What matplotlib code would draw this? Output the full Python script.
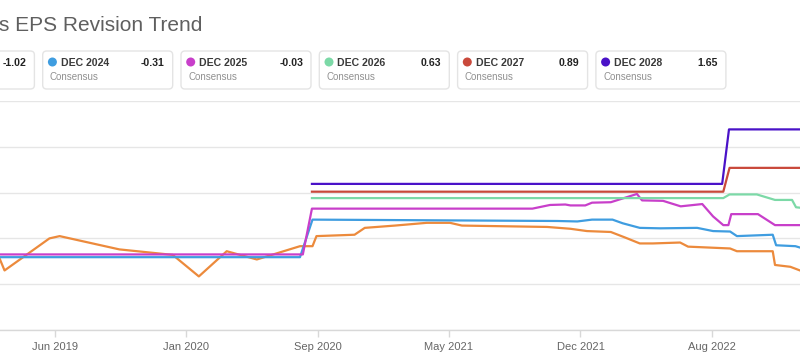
import numpy as np
import pandas as pd
import matplotlib
matplotlib.use("Agg")
import matplotlib.pyplot as plt
from matplotlib.patches import FancyBboxPatch, Circle

plt.rcParams["font.family"] = ["Liberation Sans", "DejaVu Sans"]

# -------------------------
# legend cards
# -------------------------
periods = ["DEC 2023", "DEC 2024", "DEC 2025", "DEC 2026", "DEC 2027", "DEC 2028"]
consensus = ["-1.02", "-0.31", "-0.03", "0.63", "0.89", "1.65"]
colors = ["#ec8a3c", "#3f9de0", "#c83fca", "#7cd9a7", "#c9493b", "#4a12c8"]

# -------------------------
# revision series (EPS estimate by date)
# -------------------------
dec2023_dates = ["2019-02-14", "2019-03-05", "2019-05-23", "2019-06-10", "2019-09-23",
                 "2019-12-26", "2020-02-10", "2020-03-30", "2020-05-22", "2020-08-06",
                 "2020-08-28", "2020-09-04", "2020-11-10", "2020-11-28", "2021-01-20",
                 "2021-03-17", "2021-04-27", "2021-05-18", "2021-10-15", "2021-11-25",
                 "2021-12-24", "2022-02-04", "2022-03-01", "2022-03-27", "2022-04-19",
                 "2022-06-06", "2022-06-20", "2022-09-02", "2022-09-14", "2022-11-16",
                 "2022-11-20", "2022-12-17", "2023-01-03", "2023-01-10"]
dec2023_eps = [-0.13, -0.70, 0.00, 0.05, -0.24,
               -0.36, -0.83, -0.28, -0.46, -0.17,
               -0.17, 0.05, 0.08, 0.23, 0.28,
               0.34, 0.34, 0.28, 0.25, 0.21,
               0.16, 0.14, 0.02, -0.11, -0.11,
               -0.09, -0.18, -0.22, -0.28, -0.28,
               -0.58, -0.62, -0.70, -0.72]

dec2024_dates = ["2019-02-01", "2020-08-06", "2020-08-28", "2021-11-02", "2021-12-07",
                 "2022-01-02", "2022-02-07", "2022-02-25", "2022-03-27", "2022-05-02",
                 "2022-07-06", "2022-08-03", "2022-09-02", "2022-09-14", "2022-11-16",
                 "2022-11-22", "2022-12-26", "2023-01-03", "2023-01-10"]
dec2024_eps = [-0.41, -0.41, 0.41, 0.38, 0.37,
               0.41, 0.41, 0.33, 0.23, 0.22,
               0.23, 0.16, 0.15, 0.05, 0.08,
               -0.15, -0.17, -0.20, -0.21]

dec2025_dates = ["2019-02-01", "2020-08-11", "2020-08-27", "2021-09-19", "2021-10-20",
                 "2021-11-16", "2021-11-25", "2021-12-21", "2022-01-02", "2022-02-04",
                 "2022-03-22", "2022-03-31", "2022-05-07", "2022-06-07", "2022-07-15",
                 "2022-08-03", "2022-08-21", "2022-08-30", "2022-09-04", "2022-10-21",
                 "2022-11-20", "2023-01-10"]
dec2025_eps = [-0.35, -0.35, 0.65, 0.65, 0.73,
               0.74, 0.72, 0.72, 0.78, 0.79,
               0.97, 0.83, 0.82, 0.70, 0.75,
               0.48, 0.29, 0.29, 0.53, 0.53,
               0.29, 0.29]

dec2026_dates = ["2020-08-27", "2022-08-21", "2022-09-01", "2022-10-19", "2022-11-20",
                 "2022-12-20", "2022-12-27", "2023-01-03", "2023-01-10"]
dec2026_eps = [0.88, 0.88, 0.96, 0.96, 0.84,
               0.84, 0.68, 0.67, 0.66]

dec2027_dates = ["2020-08-27", "2022-08-21", "2022-09-01", "2023-01-10"]
dec2027_eps = [1.02, 1.02, 1.54, 1.54]

dec2028_dates = ["2020-08-27", "2022-08-19", "2022-08-31", "2023-01-10"]
dec2028_eps = [1.19, 1.19, 2.38, 2.38]

tick_labels = ["Jun 2019", "Jan 2020", "Sep 2020", "May 2021", "Dec 2021", "Aug 2022"]

series = [
    (dec2023_dates, dec2023_eps),
    (dec2024_dates, dec2024_eps),
    (dec2025_dates, dec2025_eps),
    (dec2026_dates, dec2026_eps),
    (dec2027_dates, dec2027_eps),
    (dec2028_dates, dec2028_eps),
]

# -------------------------
# figure
# -------------------------
W, H = 800, 362
fig = plt.figure(figsize=(W / 100, H / 100), dpi=100)
fig.patch.set_facecolor("white")

# overlay in pixel coords for title + cards
ov = fig.add_axes([0, 0, 1, 1])
ov.set_xlim(0, W)
ov.set_ylim(H, 0)
ov.axis("off")
ov.patch.set_alpha(0)

ov.text(-1, 31, "s EPS Revision Trend", fontsize=15, color="#5f5f5f", va="baseline", ha="left")

card_w, card_h, step = 130, 38, 138.3
first_left = 42.7 - step
for i, (lab, val, col) in enumerate(zip(periods, consensus, colors)):
    x0 = first_left + i * step
    box = FancyBboxPatch((x0, 51), card_w, card_h,
                         boxstyle="round,pad=0,rounding_size=4",
                         facecolor="white", edgecolor="#e4e4e4", linewidth=1)
    ov.add_patch(box)
    ov.text(x0 + card_w - 8, 65.7, val, fontsize=7.6, fontweight="bold", color="#222222",
            va="baseline", ha="right")
    # the first card is mostly scrolled off to the left; only its value shows
    if x0 < 0:
        continue
    ov.add_patch(Circle((x0 + 9.7, 62), 4.5, color=col, linewidth=0))
    ov.text(x0 + 18, 65.7, lab, fontsize=7.6, fontweight="bold", color="#3a3a3a", va="baseline")
    ov.text(x0 + 7.3, 79.7, "Consensus", fontsize=7, color="#909090", va="baseline")

# main chart
ax = fig.add_axes([0, (H - 330) / H, 1, (330 - 101) / H])
for (d, v), col in zip(series, colors):
    ax.plot(pd.to_datetime(d), v, color=col, linewidth=1.6, solid_joinstyle="round")

ax.set_xlim(pd.Timestamp("2019-02-25"), pd.Timestamp("2023-01-03"))
ax.set_ylim(-2, 3)
ax.set_yticks([-2, -1, 0, 1, 2, 3])
ax.yaxis.grid(True, color="#e6e6e6", linewidth=1)
ax.set_axisbelow(True)
ax.tick_params(axis="y", left=False, labelleft=False)

tick_pos = pd.date_range("2019-06-01", "2022-08-01", periods=6)
ax.set_xticks(tick_pos)
ax.set_xticklabels(tick_labels)
ax.tick_params(axis="x", direction="out", length=5, width=1, color="#d8d8d8",
               labelsize=8, labelcolor="#666666", pad=4)

for side in ["top", "left", "right"]:
    ax.spines[side].set_visible(False)
ax.spines["bottom"].set_color("#d8d8d8")
ax.spines["bottom"].set_linewidth(1)

fig.savefig("out.png", dpi=100)
